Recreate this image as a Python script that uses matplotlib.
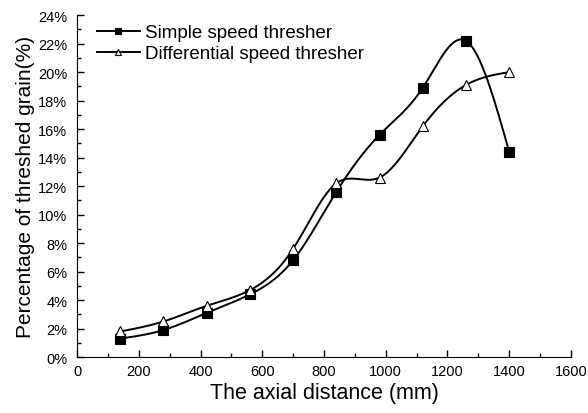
import matplotlib

matplotlib.use("Agg")

import matplotlib.pyplot as plt
import numpy as np
from matplotlib.ticker import MultipleLocator, FuncFormatter

plt.rcParams["font.family"] = ["Liberation Sans", "DejaVu Sans"]

axial_mm = [140, 280, 420, 560, 700, 840, 980, 1120, 1260, 1400]
simple_pct = [1.3, 1.9, 3.1, 4.4, 6.8, 11.6, 15.6, 18.9, 22.2, 14.4]
differential_pct = [1.8, 2.5, 3.6, 4.7, 7.6, 12.2, 12.6, 16.2, 19.1, 20.0]


def natural_spline(x, y, n=400):
    """Natural cubic spline through the points, for a smooth connecting line."""
    x = np.asarray(x, float)
    y = np.asarray(y, float)
    k = len(x)
    h = np.diff(x)
    a = np.zeros((k, k))
    b = np.zeros(k)
    a[0, 0] = a[-1, -1] = 1.0
    for i in range(1, k - 1):
        a[i, i - 1] = h[i - 1]
        a[i, i] = 2 * (h[i - 1] + h[i])
        a[i, i + 1] = h[i]
        b[i] = 6 * ((y[i + 1] - y[i]) / h[i] - (y[i] - y[i - 1]) / h[i - 1])
    m = np.linalg.solve(a, b)
    xs = np.linspace(x[0], x[-1], n)
    idx = np.clip(np.searchsorted(x, xs) - 1, 0, k - 2)
    x0, x1 = x[idx], x[idx + 1]
    hh = x1 - x0
    t0, t1 = x1 - xs, xs - x0
    ys = (m[idx] * t0 ** 3 + m[idx + 1] * t1 ** 3) / (6 * hh) \
        + (y[idx] / hh - m[idx] * hh / 6) * t0 \
        + (y[idx + 1] / hh - m[idx + 1] * hh / 6) * t1
    return xs, ys


fig = plt.figure(figsize=(5.88, 4.14), dpi=100)
ax = fig.add_axes([0.131, 0.135, 0.84, 0.826])

for yvals, marker, face, label in [
    (simple_pct, "s", "black", "Simple speed thresher"),
    (differential_pct, "^", "white", "Differential speed thresher"),
]:
    xs, ys = natural_spline(axial_mm, yvals)
    ax.plot(xs, ys, color="black", linewidth=1.4)
    ax.plot(axial_mm, yvals, linestyle="none", marker=marker, markersize=6.5,
            markerfacecolor=face, markeredgecolor="black", markeredgewidth=0.8)
    ax.plot([], [], color="black", linewidth=1.4, marker=marker, markersize=5,
            markerfacecolor=face, markeredgecolor="black", markeredgewidth=0.8,
            label=label)

ax.set_xlim(0, 1600)
ax.set_ylim(0, 24)
ax.xaxis.set_major_locator(MultipleLocator(200))
ax.xaxis.set_minor_locator(MultipleLocator(100))
ax.yaxis.set_major_locator(MultipleLocator(2))
ax.yaxis.set_minor_locator(MultipleLocator(1))
ax.yaxis.set_major_formatter(FuncFormatter(lambda v, p: f"{v:.0f}%"))
ax.tick_params(which="both", direction="in", labelsize=10.5, width=1)
ax.tick_params(which="major", length=5)
ax.tick_params(which="minor", length=3)
ax.tick_params(axis="y", pad=7)
ax.tick_params(axis="x", pad=5)
ax.spines["top"].set_visible(False)
ax.spines["right"].set_visible(False)

ax.set_xlabel("The axial distance (mm)", fontsize=15.5, labelpad=3)
ax.set_ylabel("Percentage of threshed grain(%)", fontsize=15, labelpad=2)

ax.legend(loc="upper left", frameon=False, fontsize=13.5, handlelength=2.3,
          handletextpad=0.25, labelspacing=0.2, borderaxespad=0.0,
          bbox_to_anchor=(0.025, 0.995))

fig.savefig("out.png", dpi=100)
